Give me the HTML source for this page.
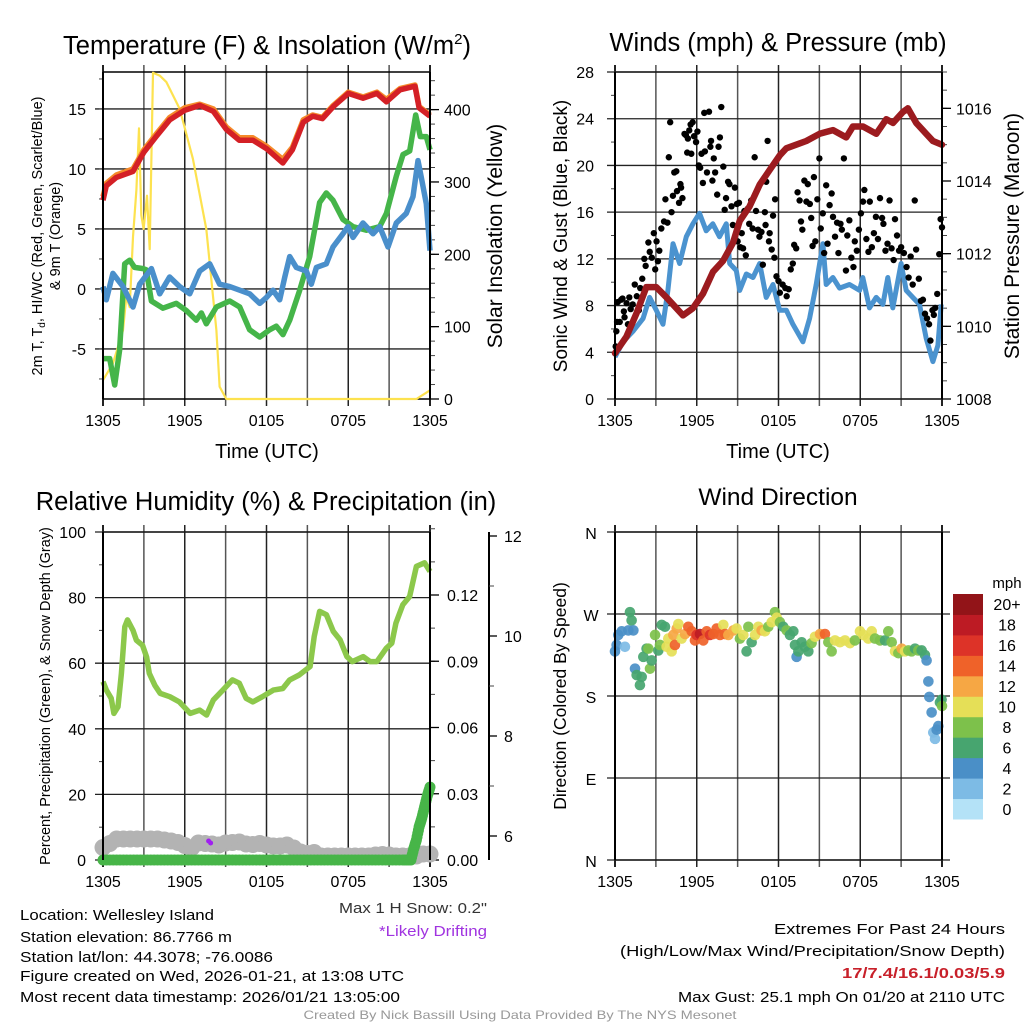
<!DOCTYPE html>
<html><head><meta charset="utf-8"><style>
html,body{margin:0;padding:0;background:#fff;}
svg{display:block;font-family:"Liberation Sans",sans-serif;}
</style></head><body>
<svg id="s" width="1024" height="1024" viewBox="0 0 1024 1024" xmlns="http://www.w3.org/2000/svg">
<rect width="1024" height="1024" fill="#fff"/>
<g id="layer"></g>
<g fill="#000">
<text x="267" y="54" font-size="25.5" text-anchor="middle">Temperature (F) &amp; Insolation (W/m<tspan font-size="15" dy="-10">2</tspan><tspan dy="10">)</tspan></text>
<text x="778" y="51" font-size="25.5" text-anchor="middle">Winds (mph) &amp; Pressure (mb)</text>
<text x="266" y="510" font-size="25.5" text-anchor="middle">Relative Humidity (%) &amp; Precipitation (in)</text>
<text x="778" y="505" font-size="24.5" text-anchor="middle">Wind Direction</text>
<text x="267" y="458" font-size="20" text-anchor="middle">Time (UTC)</text>
<text x="778" y="458" font-size="20" text-anchor="middle">Time (UTC)</text>
<text transform="translate(42,236) rotate(-90)" font-size="14.5" text-anchor="middle">2m T, T<tspan font-size="10" dy="3">d</tspan><tspan dy="-3">, HI/WC (Red, Green, Scarlet/Blue)</tspan></text>
<text transform="translate(60,236) rotate(-90)" font-size="14.5" text-anchor="middle">&amp; 9m T (Orange)</text>
<text transform="translate(502,236) rotate(-90)" font-size="21" text-anchor="middle">Solar Insolation (Yellow)</text>
<text transform="translate(567,236) rotate(-90)" font-size="19" text-anchor="middle">Sonic Wind &amp; Gust (Blue, Black)</text>
<text transform="translate(1019,236) rotate(-90)" font-size="21" text-anchor="middle">Station Pressure (Maroon)</text>
<text transform="translate(50,696) rotate(-90)" font-size="14.5" text-anchor="middle">Percent, Precipitation (Green), &amp; Snow Depth (Gray)</text>
<text transform="translate(566,696) rotate(-90)" font-size="17.5" text-anchor="middle">Direction (Colored By Speed)</text>
</g>
<g font-size="15" fill="#000">
<text x="20" y="920" textLength="194" lengthAdjust="spacingAndGlyphs">Location: Wellesley Island</text>
<text x="20" y="942" textLength="212" lengthAdjust="spacingAndGlyphs">Station elevation: 86.7766 m</text>
<text x="20" y="962" textLength="253" lengthAdjust="spacingAndGlyphs">Station lat/lon: 44.3078; -76.0086</text>
<text x="20" y="981" textLength="384" lengthAdjust="spacingAndGlyphs">Figure created on Wed, 2026-01-21, at 13:08 UTC</text>
<text x="20" y="1002" textLength="380" lengthAdjust="spacingAndGlyphs">Most recent data timestamp: 2026/01/21 13:05:00</text>
<text x="487" y="913" text-anchor="end" fill="#333" textLength="148" lengthAdjust="spacingAndGlyphs">Max 1 H Snow: 0.2"</text>
<text x="487" y="936" text-anchor="end" fill="#a033e0" textLength="108" lengthAdjust="spacingAndGlyphs">*Likely Drifting</text>
<text x="1005" y="934" text-anchor="end" textLength="231" lengthAdjust="spacingAndGlyphs">Extremes For Past 24 Hours</text>
<text x="1005" y="956" text-anchor="end" textLength="385" lengthAdjust="spacingAndGlyphs">(High/Low/Max Wind/Precipitation/Snow Depth)</text>
<text x="1005" y="978" text-anchor="end" fill="#c8202a" font-weight="bold" textLength="163" lengthAdjust="spacingAndGlyphs">17/7.4/16.1/0.03/5.9</text>
<text x="1005" y="1002" text-anchor="end" textLength="327" lengthAdjust="spacingAndGlyphs">Max Gust: 25.1 mph On 01/20 at 2110 UTC</text>
<text x="520" y="1019" text-anchor="middle" font-size="12" fill="#999" textLength="433" lengthAdjust="spacingAndGlyphs">Created By Nick Bassill Using Data Provided By The NYS Mesonet</text>
</g>
</svg>
<script>
// ---------- DATA ----------
const xTickLabels = ["1305","","1905","","0105","","0705","","1305"];
// Temperature panel
const tempH = [0,0.24,0.98,2.2,3.0,3.9,4.9,6.0,7.1,8.1,9.05,10,11,12,13.2,13.9,14.7,15.4,16.1,16.9,18,19.1,20.1,20.8,21.8,22.9,23.2,24];
const tempV = [7.4,8.6,9.3,9.8,11.4,12.7,14.1,14.9,15.3,14.8,13.3,12.4,12.4,11.7,10.5,11.6,13.9,14.4,14.2,15.2,16.3,15.9,16.3,15.6,16.6,16.9,15.1,14.4];
const temp9V = [7.7,8.8,9.5,10.0,11.6,12.9,14.3,15.1,15.4,15.0,13.5,12.6,12.6,11.9,10.8,11.8,14.1,14.5,14.3,15.3,16.4,16.0,16.4,15.8,16.7,17.0,15.2,14.5];
const dewH = [0,0.49,0.86,1.22,1.59,1.96,2.32,2.94,3.18,3.55,4.4,5.38,6.12,6.85,7.22,7.58,8.32,9.3,10.03,10.76,11.5,12.23,12.72,13.21,13.7,14.44,15.17,15.9,16.39,16.88,17.61,18.35,19.33,20.31,20.8,21.53,22.02,22.51,22.95,23.29,23.73,24];
const dewV = [-5.8,-5.8,-8.0,-5.1,2.1,2.4,1.8,1.7,1.6,-1.0,-1.6,-1.2,-1.8,-2.6,-2.0,-2.9,-1.5,-1.0,-1.5,-3.4,-4.0,-3.4,-3.1,-3.8,-2.6,-0.1,2.7,7.2,8.0,7.4,5.8,5.2,4.9,5.2,6.3,9.4,11.2,11.5,14.5,12.7,12.7,11.6];
const wcH = [0,0.24,0.73,1.47,2.2,2.69,3.55,4.16,4.89,5.63,6.36,7.1,7.83,8.56,9.3,10.03,10.76,11.5,12.0,12.48,12.97,13.34,13.7,14.19,14.92,15.29,15.66,16.39,16.88,17.61,17.98,18.35,19.08,19.82,20.31,20.92,21.53,22.26,22.75,23.12,23.36,23.73,24];
const wcV = [0.2,-0.9,1.3,0.2,-1.5,0.4,1.7,-0.4,1.0,0.2,-0.4,1.5,2.1,0.4,0.2,-0.1,-0.4,-1.2,-0.7,-0.1,-0.9,1.0,2.7,1.8,1.5,0.4,1.8,2.1,3.5,4.6,5.2,4.3,5.5,4.6,5.2,3.5,5.5,6.3,7.7,10.7,9.3,7.1,3.2];
const solH = [0,0.73,1.47,1.71,1.96,2.2,2.45,2.64,2.81,2.98,3.23,3.43,3.67,4.16,4.65,5.63,6.6,7.58,8.32,8.56,9.05,23,24];
const solV = [26,49,95,141,127,224,289,374,254,235,281,207,451,447,438,401,332,235,95,17,0,0,12];
const tempTicks = [-5,0,5,10,15];
const solTicks = [0,100,200,300,400];
// Wind panel
const windH = [0,0.59,1.32,2.06,2.54,3.03,3.52,3.88,4.26,4.74,5.23,5.72,6.2,6.69,7.18,7.67,8.17,8.42,8.9,9.15,9.64,10.13,10.62,11.1,11.6,12.08,12.57,13.06,13.79,14.28,14.77,15.26,15.5,15.99,16.48,17.21,17.95,18.19,18.68,19.17,19.66,20.02,20.39,21.0,21.37,21.86,22.35,22.84,23.33,23.7,23.94];
const windV = [3.6,4.9,5.8,6.9,8.7,7.6,6.4,9.3,13.3,11.6,13.9,15.0,15.9,14.4,15.0,13.9,15.0,11.6,11.0,9.3,10.7,10.4,11.6,8.7,9.8,7.6,7.6,6.4,4.9,6.9,9.8,13.3,9.8,10.4,9.5,9.8,9.3,10.4,7.8,8.7,8.1,10.4,7.8,11.6,9.3,8.7,8.1,5.2,3.2,4.6,8.1];
const presH = [0,0.83,1.57,2.3,3.03,3.77,4.26,4.99,5.72,6.46,7.19,7.93,8.66,9.15,9.88,10.62,11.35,12.08,12.57,13.3,14.04,15.02,16.0,16.97,17.46,18.2,19.18,19.91,20.4,21.13,21.5,22.11,22.84,23.33,24];
const presV = [1009.26,1009.71,1010.35,1011.08,1011.08,1010.8,1010.6,1010.3,1010.5,1010.9,1011.5,1011.8,1012.3,1012.9,1013.3,1013.9,1014.3,1014.7,1014.9,1015.0,1015.1,1015.3,1015.4,1015.2,1015.5,1015.5,1015.3,1015.7,1015.6,1015.9,1016.0,1015.6,1015.3,1015.1,1015.0];
const gustH = [0.05,0.1,0.15,0.2,0.35,0.45,0.55,0.65,0.7,0.85,0.95,1.05,1.15,1.3,1.45,1.6,1.75,1.85,2.0,2.15,2.25,2.45,2.55,2.7,2.85,2.95,3.05,3.15,3.25,3.4,3.6,3.7,3.85,3.95,4.05,4.15,4.25,4.35,4.5,4.55,4.7,4.8,4.85,4.95,5.1,5.2,5.3,5.35,5.45,5.55,5.6,5.7,5.8,5.95,6.05,6.15,6.25,6.35,6.45,6.55,6.6,6.75,6.9,7.0,7.05,7.15,7.25,7.35,7.5,7.6,7.7,7.8,7.95,8.05,8.15,8.3,8.4,8.55,8.65,8.8,8.95,9.0,9.1,9.2,9.3,9.4,9.5,9.6,9.75,9.85,10.0,10.1,10.25,10.35,10.5,10.6,10.75,10.85,11.0,11.05,11.1,11.2,11.3,11.35,11.5,11.6,11.7,11.75,11.85,12.0,12.1,12.3,12.5,12.6,12.75,12.9,13.05,13.15,13.3,13.4,13.55,13.65,13.75,13.9,14.05,14.15,14.3,14.4,14.5,14.6,14.7,14.85,15.0,15.1,15.25,15.35,15.5,15.6,15.75,15.9,16.0,16.15,16.3,16.4,16.55,16.65,16.8,16.95,17.05,17.2,17.35,17.5,17.6,17.75,17.9,18.05,18.2,18.3,18.45,18.6,18.7,18.85,19.0,19.15,19.3,19.45,19.6,19.7,19.85,20.0,20.15,20.3,20.45,20.55,20.7,20.85,21.0,21.2,21.4,21.55,21.7,21.85,22.0,22.1,22.3,22.45,22.6,22.75,22.9,23.05,23.15,23.3,23.4,23.5,23.65,23.8,23.9,24.0];
const gustV = [4.5,5.8,6.6,8.3,6.6,8.5,8.6,7.5,7.0,8.2,6.4,8.7,7.7,8.1,9.8,8.8,7.6,9.5,10.3,12.0,11.4,13.4,12.6,12.1,14.2,11.1,13.5,11.8,12.7,14.6,15.2,17.1,15.1,20.7,23.7,16.0,17.4,19.4,19.5,17.8,16.8,18.4,18.1,17.2,22.7,22.6,21.1,22.3,23.0,23.5,21.0,23.7,22.5,22.0,22.9,20.0,19.8,21.0,18.5,24.5,21.2,19.4,24.6,21.6,22.1,18.7,20.6,19.4,17.5,21.6,22.4,25.0,19.9,16.2,17.2,18.6,18.4,16.5,14.9,18.1,16.7,13.5,16.8,13.0,14.2,12.9,16.1,12.3,16.3,15.0,17.0,14.6,20.7,16.1,14.5,13.9,14.3,11.5,16.0,14.9,18.6,22.1,13.5,14.2,12.8,15.7,12.1,17.1,10.5,10.1,9.1,9.8,9.5,8.8,9.4,11.1,11.6,13.2,12.9,17.7,17.0,15.2,14.5,18.7,16.9,18.4,16.7,15.5,13.1,19.0,13.5,17.1,20.6,14.6,15.9,12.5,18.3,13.3,16.6,17.6,15.6,13.9,15.1,12.5,15.0,14.5,20.6,11.0,14.0,15.3,12.1,11.3,13.5,12.7,14.5,15.9,16.9,17.9,13.7,12.6,16.9,13.0,14.2,15.6,13.7,17.2,15.5,15.0,12.7,13.3,17.0,12.9,11.9,15.4,14.0,12.7,13.0,12.5,11.3,10.4,12.2,9.8,17.0,12.8,10.3,8.4,8.5,7.3,6.9,6.4,5.0,7.6,7.2,7.8,9.0,12.4,15.4,14.7];
const windTicks = [0,4,8,12,16,20,24,28];
const presTicks = [1008,1010,1012,1014,1016];
// Humidity panel
const rhH = [0,0.25,0.6,0.8,1.1,1.35,1.6,1.8,2.2,2.45,2.9,3.2,3.4,3.8,4.2,4.9,5.6,6.4,7.1,7.6,8.1,8.8,9.5,10,10.5,11,11.7,12.5,13.2,13.7,14.4,15.2,15.5,15.9,16.4,16.9,17.4,17.9,18.3,19.1,19.6,20.1,20.8,21.2,21.5,22,22.5,23,23.6,24];
const rhV = [54.4,51.8,49.3,44.7,46.7,56.9,71.1,73.2,70,67,65.5,61.9,56.9,53.3,50.8,49.8,48.2,44.7,45.7,44.2,48.8,51.8,54.9,53.9,49.3,48.2,49.8,51.8,52.3,54.9,56.4,59,68.1,75.8,74.8,69.7,67.1,62,60.5,62,60.5,60.5,64.6,66.1,72.2,77.8,80.3,89.5,90.6,88];
const snowH = [0,0.5,1,1.5,2,2.5,3,3.5,4,4.5,5,5.5,6,6.5,7,7.5,8,8.5,9,9.5,10,10.5,11,11.5,12,12.5,13,13.5,14,14.5,15,15.5,16,16.5,17,17.5,18,18.5,19,19.5,20,20.5,21,21.5,22,22.5,23,23.5,24];
const snowV = [5.77,5.85,5.94,5.94,5.94,5.94,5.94,5.94,5.94,5.92,5.9,5.87,5.81,5.76,5.86,5.85,5.84,5.82,5.86,5.87,5.88,5.84,5.83,5.85,5.82,5.8,5.8,5.82,5.76,5.68,5.65,5.67,5.6,5.6,5.6,5.6,5.6,5.6,5.6,5.6,5.62,5.63,5.62,5.6,5.6,5.6,5.6,5.64,5.64];
const precH = [0,1,2,3,4,5,6,7,8,9,10,11,12,13,14,15,16,17,18,19,20,21,22,22.6,22.8,23.0,23.2,23.4,23.6,23.8,24];
const precV = [0,0,0,0,0,0,0,0,0,0,0,0,0,0,0,0,0,0,0,0,0,0,0,0,0.005,0.009,0.015,0.019,0.024,0.029,0.033];
const driftH = [7.75,7.9];
const driftV = [5.9,5.86];
const rhTicks = [0,20,40,60,80,100];
const precTicks = ["0.00","0.03","0.06","0.09","0.12"];
const snowTicks = [6,8,10,12];
// Direction panel
const dirH = [0,0.12,0.24,0.49,0.73,0.98,1.10,1.22,1.35,1.47,1.59,1.83,1.96,2.08,2.32,2.45,2.57,2.69,2.94,3.18,3.30,3.43,3.67,3.79,3.91,4.16,4.28,4.40,4.53,4.65,4.89,5.14,5.38,5.63,5.87,5.99,6.24,6.48,6.73,6.97,7.22,7.46,7.71,7.95,8.07,8.32,8.69,8.93,9.17,9.42,9.66,9.79,10.03,10.28,10.52,10.76,11.01,11.25,11.50,11.74,11.87,12.11,12.35,12.60,12.84,13.09,13.21,13.33,13.46,13.70,13.94,14.19,14.43,14.68,15.05,15.41,15.66,15.90,16.15,16.51,16.88,17.25,17.61,17.98,18.23,18.59,18.84,19.08,19.45,19.82,20.06,20.31,20.55,20.80,21.04,21.28,21.53,21.77,22.02,22.26,22.51,22.75,22.87,23.00,23.07,23.24,23.36,23.49,23.61,23.73,23.85,23.97,24];
const dirV = [229,236,247,251,234,252,272,263,252,210,203,192,201,223,232,232,210,219,247,230,236,258,256,234,243,229,247,236,254,259,243,248,256,251,241,247,248,241,251,247,248,254,247,258,248,247,252,254,243,247,229,256,239,247,256,252,251,256,261,272,266,261,256,252,247,251,236,223,229,239,234,229,238,245,248,248,239,229,241,239,241,238,241,251,247,243,251,243,241,241,251,239,229,227,232,229,230,229,232,230,230,225,219,196,179,162,140,133,143,147,173,176,169];
const dirS = [4,4,4,4,3,4,6,6,4,4,6,6,6,6,7,8,8,7,8,7,8,6,7,10,10,10,12,15,12,10,10,12,15,14,15,17,18,15,14,16,15,15,14,10,15,13,12,10,9,10,7,8,7,10,10,12,10,8,10,9,10,8,7,8,7,6,6,4,6,6,6,6,8,10,12,15,8,8,10,10,10,10,9,10,10,10,10,8,8,7,8,8,10,8,13,10,8,9,7,8,7,6,5,4,4,4,3,2,4,4,7,7,8];
const dirTicks = ["N","E","S","W","N"];
const speedBins = ["0","2","4","6","8","10","12","14","16","18","20+"];
const speedColors = ["#b4e2f7","#7dbbe5","#4a8fc7","#47a56f","#7dc14b","#e5df57","#f6a744","#ef6229","#dd3328","#bd1b24","#921418"];

// ---------- DRAWING ----------
const NS="http://www.w3.org/2000/svg";
const layer=document.getElementById('layer');
function el(tag,attrs,parent){const e=document.createElementNS(NS,tag);for(const k in attrs)e.setAttribute(k,attrs[k]);(parent||layer).appendChild(e);return e;}
function scale(d0,d1,r0,r1){return v=>r0+(v-d0)/(d1-d0)*(r1-r0);}
function txt(x,y,s,anchor,size,parent){const t=el('text',{x:x,y:y,'text-anchor':anchor,'font-size':size,fill:'#000'},parent);t.textContent=s;return t;}
function pathFrom(H,V,xs,ys){return H.map((h,i)=>(i?'L':'M')+xs(h).toFixed(1)+' '+ys(V[i]).toFixed(1)).join(' ');}

function panelFrame(name,x0,x1,y0,y1){
  const g=el('g',{});
  
  
  const xs=scale(0,24,x0,x1);
  for(let i=0;i<=8;i++){
    const x=xs(i*3);
    const gl=el('line',{x1:x,x2:x,y1:y0-7,y2:y1+7,stroke:(i%2?'#555':'#222'),'stroke-width':(i==0||i==8)?2:1.5},g);
    
    
    if(xTickLabels[i]){const t=txt(x,y1+27,xTickLabels[i],'middle',16,g);}
  }
  el('line',{x1:x0,x2:x1,y1:y0,y2:y0,stroke:'#000','stroke-width':1.5},g);
  el('line',{x1:x0,x2:x1,y1:y1,y2:y1,stroke:'#000','stroke-width':1.5},g);
  return {g,xs};
}
function hgrid(g,ys,ticks,x0,x1){ticks.forEach(v=>{const l=el('line',{x1:x0-8,x2:x1,y1:ys(v),y2:ys(v),stroke:'#222','stroke-width':1.3},g);});}
function leftAxis(g,ys,ticks,labels,minor,x0,lx){
  minor.forEach(v=>el('line',{x1:x0-4,x2:x0,y1:ys(v),y2:ys(v),stroke:'#444','stroke-width':1},g));
  ticks.forEach((v,i)=>{const t=txt(lx,ys(v)+6,labels[i],'end',16,g);});
}
function rightAxis(g,ys,ticks,labels,minor,x1,lx){
  minor.forEach(v=>el('line',{x1:x1,x2:x1+5,y1:ys(v),y2:ys(v),stroke:'#444','stroke-width':1},g));
  ticks.forEach((v,i)=>{el('line',{x1:x1,x2:x1+9,y1:ys(v),y2:ys(v),stroke:'#000','stroke-width':1.3},g);const t=txt(lx,ys(v)+6,labels[i],'start',16,g);});
}
function range(a,b,s){const r=[];for(let v=a;v<=b+1e-9;v+=s)r.push(+v.toFixed(4));return r;}

// Panel 1: Temperature
(function(){
  const x0=103,x1=430,y0=72,y1=399;
  const {g,xs}=panelFrame('temperature-panel',x0,x1,y0,y1);
  const ys=scale(-9.17,18.08,y1,y0);
  const yr=scale(0,452,y1,y0);
  hgrid(g,ys,tempTicks,x0,x1);
  leftAxis(g,ys,tempTicks,tempTicks.map(String),range(-7.5,17.5,2.5),x0,86);
  rightAxis(g,yr,solTicks,solTicks.map(String),range(0,440,20),x1,444);
  const cl=el('path',{d:pathFrom(solH,solV,xs,yr),fill:'none',stroke:'#fde24f','stroke-width':2.2,'stroke-linejoin':'round'},g);
  
  const o=el('path',{d:pathFrom(tempH,temp9V,xs,ys),fill:'none',stroke:'#f58a2a','stroke-width':5.5,'stroke-linejoin':'round'},g);
  
  const r=el('path',{d:pathFrom(tempH,tempV,xs,ys),fill:'none',stroke:'#d42026','stroke-width':5.5,'stroke-linejoin':'round'},g);
  
  const d=el('path',{d:pathFrom(dewH,dewV,xs,ys),fill:'none',stroke:'#45b549','stroke-width':5.5,'stroke-linejoin':'round'},g);
  
  const w=el('path',{d:pathFrom(wcH,wcV,xs,ys),fill:'none',stroke:'#4a8fcb','stroke-width':5.5,'stroke-linejoin':'round'},g);
  
  el('line',{x1:x0,x2:x0,y1:y0,y2:y1,stroke:'#000','stroke-width':2},g);
  el('line',{x1:x1,x2:x1,y1:y0,y2:y1,stroke:'#000','stroke-width':2},g);
})();

// Panel 2: Winds
(function(){
  const x0=615,x1=942,y0=72,y1=399;
  const {g,xs}=panelFrame('winds-panel',x0,x1,y0,y1);
  const ys=scale(0,28,y1,y0);
  const yr=scale(1008,1017,y1,y0);
  hgrid(g,ys,windTicks,x0,x1);
  leftAxis(g,ys,windTicks,windTicks.map(String),range(2,26,4),x0,594);
  rightAxis(g,yr,presTicks,presTicks.map(String),range(1008.5,1017,0.5),x1,956);
  const b=el('path',{d:pathFrom(windH,windV,xs,ys),fill:'none',stroke:'#4b93cf','stroke-width':5,'stroke-linejoin':'round'},g);
  
  gustH.forEach((h,i)=>{const c=el('circle',{cx:xs(h),cy:ys(gustV[i]),r:3.2,fill:'#000'},g);
    
    });
  const p=el('path',{d:pathFrom(presH,presV,xs,yr),fill:'none',stroke:'#9c1b1f','stroke-width':6.5,'stroke-linejoin':'round','stroke-linecap':'round'},g);
  
  el('line',{x1:x0,x2:x0,y1:y0,y2:y1,stroke:'#000','stroke-width':2},g);
  el('line',{x1:x1,x2:x1,y1:y0,y2:y1,stroke:'#000','stroke-width':2},g);
})();

// Panel 3: Humidity
(function(){
  const x0=103,x1=430,y0=532,y1=860;
  const {g,xs}=panelFrame('humidity-panel',x0,x1,y0,y1);
  const ys=scale(0,100,y1,y0);
  const yp=scale(0,0.12,y1,595);
  const ysn=scale(5.52,12.08,y1,y0);
  hgrid(g,ys,rhTicks,x0,x1);
  leftAxis(g,ys,rhTicks,rhTicks.map(String),range(10,90,20),x0,86);
  rightAxis(g,yp,precTicks.map(Number),precTicks,range(0.015,0.15,0.015),x1,447);
  el('line',{x1:489,x2:489,y1:y0,y2:y1,stroke:'#000','stroke-width':2},g);
  range(6,12,1).forEach(v=>el('line',{x1:489,x2:494,y1:ysn(v),y2:ysn(v),stroke:'#444','stroke-width':1},g));
  snowTicks.forEach(v=>{el('line',{x1:489,x2:497,y1:ysn(v),y2:ysn(v),stroke:'#000','stroke-width':1.3},g);const t=txt(504,ysn(v)+6,String(v),'start',16,g);});
  const rh=el('path',{d:pathFrom(rhH,rhV,xs,ys),fill:'none',stroke:'#8cc84b','stroke-width':5.5,'stroke-linejoin':'round'},g);
  
  snowH.forEach((h,i)=>{const c=el('circle',{cx:xs(h),cy:ysn(snowV[i]),r:8.5,fill:'#b3b3b3'},g);
    
    });
  for(let i=0;i<precH.length-1;i++){const n=4;for(let k=0;k<n;k++){const f=k/n;const h=precH[i]+(precH[i+1]-precH[i])*f;const v=precV[i]+(precV[i+1]-precV[i])*f;
    const c=el('circle',{cx:xs(h),cy:yp(v),r:5.5,fill:'#47b548'},g);
    
    }}
  const last=el('circle',{cx:xs(precH[precH.length-1]),cy:yp(precV[precV.length-1]),r:5.5,fill:'#47b548'},g);
  
  driftH.forEach((h,i)=>{const c=el('circle',{cx:xs(h),cy:ysn(driftV[i]),r:2.5,fill:'#a020f0'},g);
    
    });
  el('line',{x1:x0,x2:x0,y1:y0,y2:y1,stroke:'#000','stroke-width':2},g);
  el('line',{x1:x1,x2:x1,y1:y0,y2:y1,stroke:'#000','stroke-width':2},g);
})();

// Panel 4: Direction
(function(){
  const x0=615,x1=942,y0=532,y1=860;
  const {g,xs}=panelFrame('direction-panel',x0,x1,y0,y1);
  const ys=scale(0,360,y1,y0);
  const dv=[0,90,180,270,360];
  hgrid(g,ys,dv,x0,x1+8);
  dv.forEach((v,i)=>{const t=txt(591,ys(v)+7,dirTicks[i],'middle',16,g);});
  function col(s){let b=Math.floor(s/2);if(b>10)b=10;if(b<0)b=0;return speedColors[b];}
  dirH.forEach((h,i)=>{const c=el('circle',{cx:xs(h),cy:ys(dirV[i]),r:5.3,fill:col(dirS[i]),'fill-opacity':0.92},g);
    
    });
  el('line',{x1:x0,x2:x0,y1:y0,y2:y1,stroke:'#000','stroke-width':2},g);
  el('line',{x1:x1,x2:x1,y1:y0,y2:y1,stroke:'#000','stroke-width':2},g);
  const cb=el('g',{});
  
  
  const top=594,bot=819,h=(bot-top)/speedBins.length;
  speedBins.forEach((lab,i)=>{const y=bot-(i+1)*h;
    const r=el('rect',{x:953,y:y,width:30,height:h+0.5,fill:speedColors[i]},cb);
    
    const t=txt(1007,y+h/2+6,lab,'middle',16,cb);});
  const m=txt(1007,588,'mph','middle',15,cb);
})();
</script>
</body></html>
